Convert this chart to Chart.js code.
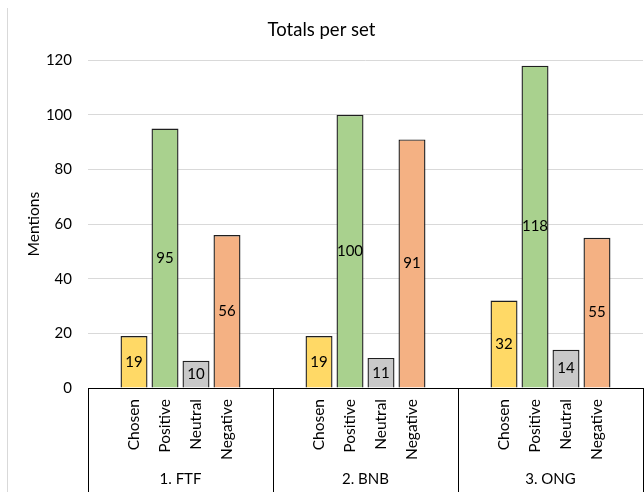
<!DOCTYPE html>
<html>
<head>
<meta charset="utf-8">
<script src="https://cdn.jsdelivr.net/npm/chart.js@4/dist/chart.umd.min.js"></script>
<style>
  html, body { margin: 0; padding: 0; background: #fff; }
  #wrap { width: 644px; height: 492px; position: relative; }
</style>
</head>
<body>
<div id="wrap"><canvas id="c" width="644" height="492"></canvas></div>
<script>
// Sets and mention types
const groups = ['1. FTF', '2. BNB', '3. ONG'];
const kinds = ['Chosen', 'Positive', 'Neutral', 'Negative'];

// Mentions per set, one array per type
const chosen = [19, 19, 32];
const positive = [95, 100, 118];
const neutral = [10, 11, 14];
const negative = [56, 91, 55];

// Value axis
const yMin = 0;
const yMax = 120;
const yStep = 20;

const colors = ['#FFD966', '#A9D18E', '#C9C9C9', '#F4B183'];
const FONT = 'Lato, "Liberation Sans", sans-serif';

const seriesValues = [chosen, positive, neutral, negative];

// Value labels inside the bars, type names under each bar, frame line
const decorations = {
  id: 'decorations',
  beforeDraw(chart) {
    const ctx = chart.ctx;
    ctx.save();
    ctx.strokeStyle = '#D9D9D9';
    ctx.lineWidth = 1;
    ctx.beginPath();
    ctx.moveTo(7.5, 8);
    ctx.lineTo(7.5, chart.height);
    ctx.stroke();
    ctx.restore();
  },
  afterDraw(chart) {
    const ctx = chart.ctx;
    const xScale = chart.scales.x;
    ctx.save();
    ctx.fillStyle = '#000';
    chart.data.datasets.forEach((ds, i) => {
      const meta = chart.getDatasetMeta(i);
      meta.data.forEach((bar, j) => {
        // value label centred in the bar
        ctx.font = '15px ' + FONT;
        ctx.textAlign = 'center';
        ctx.textBaseline = 'middle';
        ctx.fillText(String(ds.data[j]), bar.x, (bar.y + bar.base) / 2);
        // rotated type name below the axis
        ctx.save();
        ctx.font = '15.5px ' + FONT;
        ctx.translate(bar.x, xScale.top + 11);
        ctx.rotate(-Math.PI / 2);
        ctx.textAlign = 'right';
        ctx.textBaseline = 'middle';
        ctx.fillText(ds.label, 0, 0);
        ctx.restore();
      });
    });
    ctx.restore();
  }
};

new Chart(document.getElementById('c'), {
  type: 'bar',
  data: {
    labels: groups,
    datasets: kinds.map((k, i) => ({
      label: k,
      data: seriesValues[i],
      backgroundColor: colors[i],
      borderColor: '#1f1f1f',
      borderWidth: 1.4,
      categoryPercentage: 0.67,
      barPercentage: 0.871
    }))
  },
  options: {
    responsive: false,
    animation: false,
    layout: { padding: { left: 0, right: 1, top: 0, bottom: 0 } },
    plugins: {
      legend: { display: false },
      tooltip: { enabled: false },
      title: {
        display: true,
        text: 'Totals per set',
        color: '#000',
        font: { family: FONT, size: 18.5, weight: 'normal' },
        padding: { top: 19, bottom: 19 }
      }
    },
    scales: {
      y: {
        min: yMin,
        max: yMax,
        ticks: {
          stepSize: yStep,
          color: '#000',
          font: { family: FONT, size: 15 },
          padding: 16
        },
        grid: { color: '#D9D9D9', drawTicks: false },
        border: { display: false },
        title: {
          display: true,
          text: 'Mentions',
          color: '#000',
          font: { family: FONT, size: 15.5 },
          padding: { top: 25, bottom: 0 }
        },
        afterFit(s) { s.width = 88; }
      },
      x: {
        ticks: {
          color: '#000',
          font: { family: FONT, size: 15 },
          padding: -22,
          maxRotation: 0,
          autoSkip: false
        },
        grid: {
          drawOnChartArea: false,
          drawTicks: true,
          tickLength: 104,
          color: '#000',
          tickColor: '#000',
          offset: true
        },
        border: { display: true, color: '#000', width: 1 },
        afterFit(s) { s.height = 104; }
      }
    }
  },
  plugins: [decorations]
});
</script>
</body>
</html>
